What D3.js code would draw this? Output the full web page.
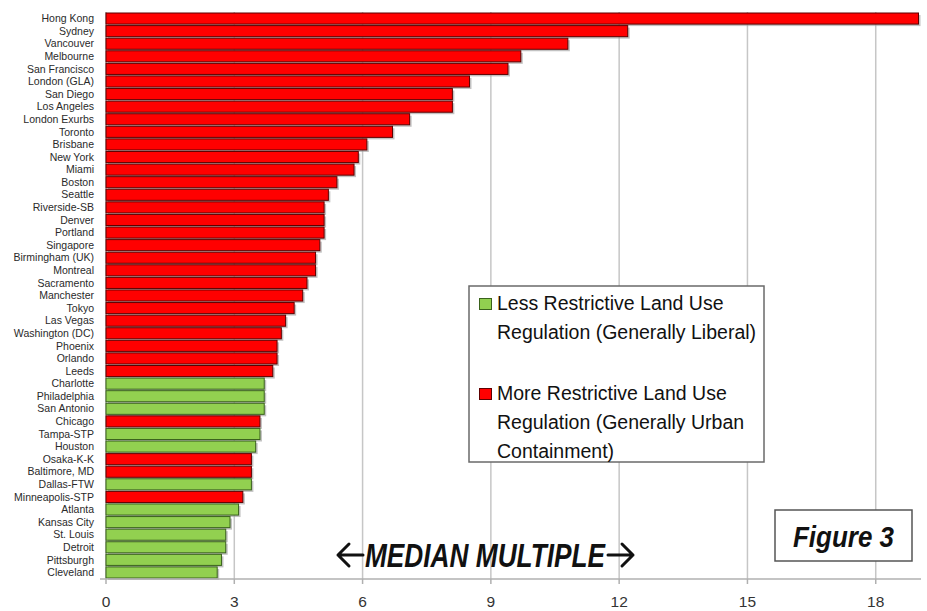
<!DOCTYPE html>
<html>
<head>
  <style>
    body { margin: 0; background: #fff; font-family: "Liberation Sans", Arial, sans-serif; }
    .city-label { fill: #2a2a2a; font-size: 10.5px; }
    .tick-label { fill: #333; font-size: 15.5px; }
    .legend-text { fill: #111; font-size: 19.5px; }
    .bold-note { fill: #111; font-weight: bold; font-style: italic; }
    .arrow { fill: none; stroke: #111; stroke-width: 3; stroke-linecap: round; stroke-linejoin: round; }
  </style>
  <script src="https://d3js.org/d3.v7.min.js"></script>
</head>
<body>
<div class="chart"></div>
<script>
const cities = ['Hong Kong','Sydney','Vancouver','Melbourne','San Francisco','London (GLA)','San Diego',
  'Los Angeles','London Exurbs','Toronto','Brisbane','New York','Miami','Boston','Seattle','Riverside-SB',
  'Denver','Portland','Singapore','Birmingham (UK)','Montreal','Sacramento','Manchester','Tokyo','Las Vegas',
  'Washington (DC)','Phoenix','Orlando','Leeds','Charlotte','Philadelphia','San Antonio','Chicago','Tampa-STP',
  'Houston','Osaka-K-K','Baltimore, MD','Dallas-FTW','Minneapolis-STP','Atlanta','Kansas City','St. Louis',
  'Detroit','Pittsburgh','Cleveland'];

const medianMultiple = [19.0, 12.2, 10.8, 9.7, 9.4, 8.5, 8.1, 8.1, 7.1, 6.7, 6.1, 5.9, 5.8, 5.4, 5.2, 5.1,
  5.1, 5.1, 5.0, 4.9, 4.9, 4.7, 4.6, 4.4, 4.2, 4.1, 4.0, 4.0, 3.9, 3.7, 3.7, 3.7, 3.6, 3.6, 3.5, 3.4, 3.4,
  3.4, 3.2, 3.1, 2.9, 2.8, 2.8, 2.7, 2.6];

// M = more restrictive, L = less restrictive
const regulation = ['M','M','M','M','M','M','M','M','M','M','M','M','M','M','M','M','M','M','M','M','M',
  'M','M','M','M','M','M','M','M','L','L','L','M','L','L','M','M','L','M','L','L','L','L','L','L'];

const xTicks = [0, 3, 6, 9, 12, 15, 18];

const legendItems = [
  {key: 'L', lines: ['Less Restrictive Land Use', 'Regulation (Generally Liberal)']},
  {key: 'M', lines: ['More Restrictive Land Use', 'Regulation (Generally Urban', 'Containment)']}
];

const width = 927;
const height = 611;

const svg = d3.select('.chart').append('svg')
  .attr('width', width)
  .attr('height', height);

const x = d3.scaleLinear().domain([0, 19]).range([106, 918.5]);
const y = d3.scaleBand().domain(cities).range([12.5, 578.5]).paddingInner(0.12).paddingOuter(0.04);

const fillColour = d3.scaleOrdinal().domain(['M', 'L']).range(['#ff0000', '#92d050']);
const edgeColour = d3.scaleOrdinal().domain(['M', 'L']).range(['#5e0000', '#3a621c']);

const rows = cities.map((c, i) => ({city: c, value: medianMultiple[i], type: regulation[i]}));

// gridlines
svg.append('g')
  .selectAll('line')
  .data(xTicks.filter(t => t > 0))
  .join('line')
  .attr('x1', d => x(d)).attr('x2', d => x(d))
  .attr('y1', 12).attr('y2', 579)
  .attr('stroke', '#c6c6c6')
  .attr('stroke-width', 1.5);

// left axis line
svg.append('line')
  .attr('x1', x(0)).attr('x2', x(0))
  .attr('y1', 12).attr('y2', 579)
  .attr('stroke', '#b0b0b0')
  .attr('stroke-width', 1.5);

// bar shadows
svg.append('g')
  .selectAll('rect')
  .data(rows)
  .join('rect')
  .attr('x', x(0) + 2)
  .attr('y', d => y(d.city) + 2)
  .attr('width', d => x(d.value) - x(0))
  .attr('height', y.bandwidth())
  .attr('fill', '#9a9a9a')
  .attr('opacity', 0.6);

// bars
svg.append('g')
  .selectAll('rect')
  .data(rows)
  .join('rect')
  .attr('x', x(0))
  .attr('y', d => y(d.city))
  .attr('width', d => x(d.value) - x(0))
  .attr('height', y.bandwidth())
  .attr('fill', d => fillColour(d.type))
  .attr('stroke', d => edgeColour(d.type))
  .attr('stroke-width', 1);

// city labels
svg.append('g')
  .selectAll('text')
  .data(rows)
  .join('text')
  .attr('class', 'city-label')
  .attr('x', 94)
  .attr('y', d => y(d.city) + y.bandwidth() / 2)
  .attr('dy', '0.35em')
  .attr('text-anchor', 'end')
  .text(d => d.city);

// x axis
const xAxis = svg.append('g').attr('transform', 'translate(0,579)');
xAxis.append('line')
  .attr('x1', x(0) - 6).attr('x2', 921)
  .attr('stroke', '#b0b0b0')
  .attr('stroke-width', 1.5);
xAxis.selectAll('line.tick')
  .data(xTicks)
  .join('line')
  .attr('class', 'tick')
  .attr('x1', d => x(d)).attr('x2', d => x(d))
  .attr('y1', 0).attr('y2', 5)
  .attr('stroke', '#b0b0b0')
  .attr('stroke-width', 1.5);
xAxis.selectAll('text')
  .data(xTicks)
  .join('text')
  .attr('class', 'tick-label')
  .attr('x', d => x(d))
  .attr('y', 28)
  .attr('text-anchor', 'middle')
  .text(d => d);

// legend
const legend = svg.append('g').attr('transform', 'translate(469,286)');
legend.append('rect')
  .attr('width', 295).attr('height', 176)
  .attr('fill', '#fff')
  .attr('stroke', '#6a6a6a')
  .attr('stroke-width', 1.5);

let lineY = 24;
legendItems.forEach((item, k) => {
  legend.append('rect')
    .attr('x', 10.5).attr('y', lineY - 11.5)
    .attr('width', 12).attr('height', 11)
    .attr('fill', fillColour(item.key))
    .attr('stroke', edgeColour(item.key))
    .attr('stroke-width', 1);
  item.lines.forEach((ln, j) => {
    legend.append('text')
      .attr('class', 'legend-text')
      .attr('x', 28)
      .attr('y', lineY + j * 29)
      .text(ln);
  });
  lineY += item.lines.length * 29 + 32;
});

// median multiple caption with arrows either side
const arrowY = 555;
svg.append('path')
  .attr('class', 'arrow')
  .attr('d', `M363,${arrowY} H338 M349,${arrowY - 11} L338,${arrowY} L349,${arrowY + 11}`);
svg.append('text')
  .attr('class', 'bold-note')
  .attr('x', 365).attr('y', 567)
  .attr('font-size', 33)
  .attr('textLength', 240)
  .attr('lengthAdjust', 'spacingAndGlyphs')
  .text('MEDIAN MULTIPLE');
svg.append('path')
  .attr('class', 'arrow')
  .attr('d', `M608,${arrowY} H633 M622,${arrowY - 11} L633,${arrowY} L622,${arrowY + 11}`);

// figure label
svg.append('rect')
  .attr('x', 775).attr('y', 510)
  .attr('width', 137).attr('height', 51)
  .attr('fill', '#fff')
  .attr('stroke', '#555')
  .attr('stroke-width', 1.5);
svg.append('text')
  .attr('class', 'bold-note')
  .attr('x', 793).attr('y', 547)
  .attr('font-size', 29)
  .attr('textLength', 101)
  .attr('lengthAdjust', 'spacingAndGlyphs')
  .text('Figure 3');
</script>
</body>
</html>
